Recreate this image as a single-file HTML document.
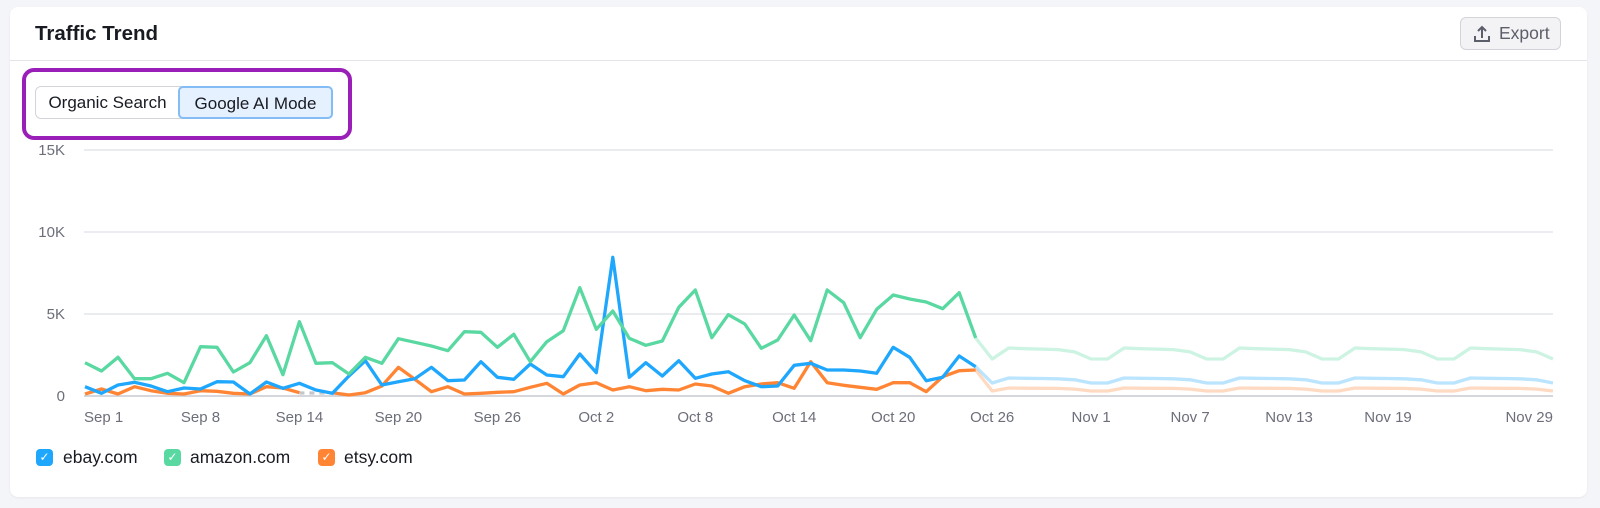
<!DOCTYPE html>
<html><head><meta charset="utf-8"><style>
html,body{margin:0;padding:0;background:#f4f5f9;width:1600px;height:508px;overflow:hidden;font-family:"Liberation Sans",sans-serif;}
.card{position:absolute;left:10px;top:7px;width:1577px;height:490px;background:#fff;border-radius:8px;box-shadow:0 1px 2px rgba(0,0,0,.06);}
.title{position:absolute;left:35px;top:22px;font-size:20.5px;font-weight:bold;color:#191b23;}
.div{position:absolute;left:10px;top:60px;width:1577px;height:1px;background:#e4e5ea;}
.export{position:absolute;left:1460px;top:17px;width:101px;height:33px;box-sizing:border-box;border:1px solid #d3d4da;border-radius:6px;background:#f3f3f6;color:#5c5e69;font-size:17.5px;line-height:31px;}
.purple{position:absolute;left:22px;top:68px;width:322px;height:64px;border:4px solid #9a1fb8;border-radius:12px;box-sizing:content-box;}
.btns{position:absolute;left:35px;top:86px;height:33px;width:297px;border:1px solid #d3d4da;border-radius:6px;box-sizing:border-box;font-size:17px;color:#191b23;}
.b1{position:absolute;left:0;top:0;width:143px;height:31px;line-height:31px;text-align:center;}
.b2{position:absolute;left:142px;top:-1px;width:155px;height:33px;line-height:31px;text-align:center;background:#e6f1ff;border:2px solid #84bdf5;border-radius:5px;box-sizing:border-box;}
svg{position:absolute;left:0;top:0;}
.lg{position:absolute;font-size:17.5px;color:#191b23;}
.cb{position:absolute;top:449px;width:17px;height:17px;border-radius:4px;color:#fff;font-size:12px;text-align:center;line-height:17px;}
</style></head><body>
<div class="card"></div>
<div class="title">Traffic Trend</div>
<div class="div"></div>
<div class="export"><svg width="22" height="22" style="left:10px;top:5px" viewBox="0 0 22 22"><path d="M11 15V4M7 8l4-4 4 4M4 13v5h14v-5" fill="none" stroke="#5c5e69" stroke-width="2"/></svg><span style="position:absolute;left:38px;top:0">Export</span></div>
<div class="purple"></div>
<div class="btns"><div class="b1">Organic Search</div><div class="b2">Google AI Mode</div></div>
<svg id="ch" width="1600" height="508" font-family="Liberation Sans, sans-serif" font-size="15" fill="#6c6e79">
<g stroke="#e4e5ec" stroke-width="1.5">
<line x1="84" x2="1553" y1="150" y2="150"/><line x1="84" x2="1553" y1="232" y2="232"/><line x1="84" x2="1553" y1="314" y2="314"/>
</g>
<line x1="84" x2="1553" y1="396" y2="396" stroke="#c9cad1" stroke-width="1.5"/>
<g text-anchor="end"><text x="65" y="155">15K</text><text x="65" y="237">10K</text><text x="65" y="319">5K</text><text x="65" y="401">0</text></g>
<g id="xl" text-anchor="middle"></g>
<g id="lines"></g>
</svg>
<div class="cb" style="left:36px;background:#1ea7fd">✓</div><div class="lg" style="left:63px;top:447px">ebay.com</div>
<div class="cb" style="left:164px;background:#59d8a1">✓</div><div class="lg" style="left:190px;top:447px">amazon.com</div>
<div class="cb" style="left:318px;background:#ff8534">✓</div><div class="lg" style="left:344px;top:447px">etsy.com</div>
<script>
var X=function(d){return 85+d*16.494;};
var ns="http://www.w3.org/2000/svg";
function pyz(a,base){return a.map(function(v){return v==null?null:base+v/3;});}
var gA=pyz([368,393,352,416,416,400,428,320,322,396,368,287,404,245,370,368,402,352,370,296,307,318,332,275,277,322,283],240)
 .concat(pyz([365,305,272,143,268,213,295,316,303,202,150,293,224,252,325,300,225,302,150,188,293,208,165,177,186,206,158],240)).concat([338]);
var gB=pyz([440,460,435,427,438,455,444,447,425,426,462,426,445,430,450,460,408,362,435,425,416,382,422,420,365,412,418],240)
 .concat(pyz([372,405,410,342,398,52,412,368,408,362,415,402,395,422,440,438,376,370,390,390,393,400,322,352,422,412,348],240)).concat([366.7]);
var gO=pyz([462,447,462,440,452,460,462,452,454,460,462,440,444,458,null,458,465,458,438,382,418,455,440,462,460,457,455],240)
 .concat(pyz([442,430,462,435,428,450,440,452,448,450,432,438,460,440,432,428,445,365,428,436,442,448,428,428,455,410,392],240)).concat([370]);
function fade(hi,lo,a){var r=[];for(var d=54;d<=89;d++){if(d==54){r.push(a);continue;}var m=(d-55)%7;var v;if(m==0||m==6)v=lo;else if(m==1)v=hi;else if(m==2)v=hi+(lo-hi)*0.06;else if(m==3)v=hi+(lo-hi)*0.1;else if(m==4)v=hi+(lo-hi)*0.15;else v=hi+(lo-hi)*0.35;r.push(v);}return r;}
function path(arr,off){var s="",pen=false;for(var i=0;i<arr.length;i++){if(arr[i]==null){pen=false;continue;}s+=(pen?"L":"M")+X(i+off).toFixed(1)+" "+arr[i].toFixed(1);pen=true;}return s;}
var G=document.getElementById("lines");
function add(d,c,op,dash){var p=document.createElementNS(ns,"path");p.setAttribute("d",d);p.setAttribute("fill","none");p.setAttribute("stroke",c);p.setAttribute("stroke-width","3.3");p.setAttribute("stroke-linejoin","round");if(op)p.setAttribute("stroke-opacity",op);if(dash)p.setAttribute("stroke-dasharray",dash);G.appendChild(p);}
add(path(fade(348,359,338),54),"#59d8a1",0.3);
add(path(fade(378,383,366.7),54),"#1ea7fd",0.3);
add(path(fade(388,391,370),54),"#ff8534",0.3);
add("M"+X(13)+" 393L"+X(15)+" 393","#c4c6cc",1,"5 5");
add(path(gO,0),"#ff8534");
add(path(gB,0),"#1ea7fd");
add(path(gA,0),"#59d8a1");
var labs=[[0,"Sep 1"],[7,"Sep 8"],[13,"Sep 14"],[19,"Sep 20"],[25,"Sep 26"],[31,"Oct 2"],[37,"Oct 8"],[43,"Oct 14"],[49,"Oct 20"],[55,"Oct 26"],[61,"Nov 1"],[67,"Nov 7"],[73,"Nov 13"],[79,"Nov 19"],[89,"Nov 29"]];
var XL=document.getElementById("xl");
labs.forEach(function(l){var t=document.createElementNS(ns,"text");var x=X(l[0]);if(l[0]==0){t.setAttribute("text-anchor","start");x=84;}if(l[0]==89){t.setAttribute("text-anchor","end");x=1553;}t.setAttribute("x",x);t.setAttribute("y",422);t.textContent=l[1];XL.appendChild(t);});
</script>
</body></html>
